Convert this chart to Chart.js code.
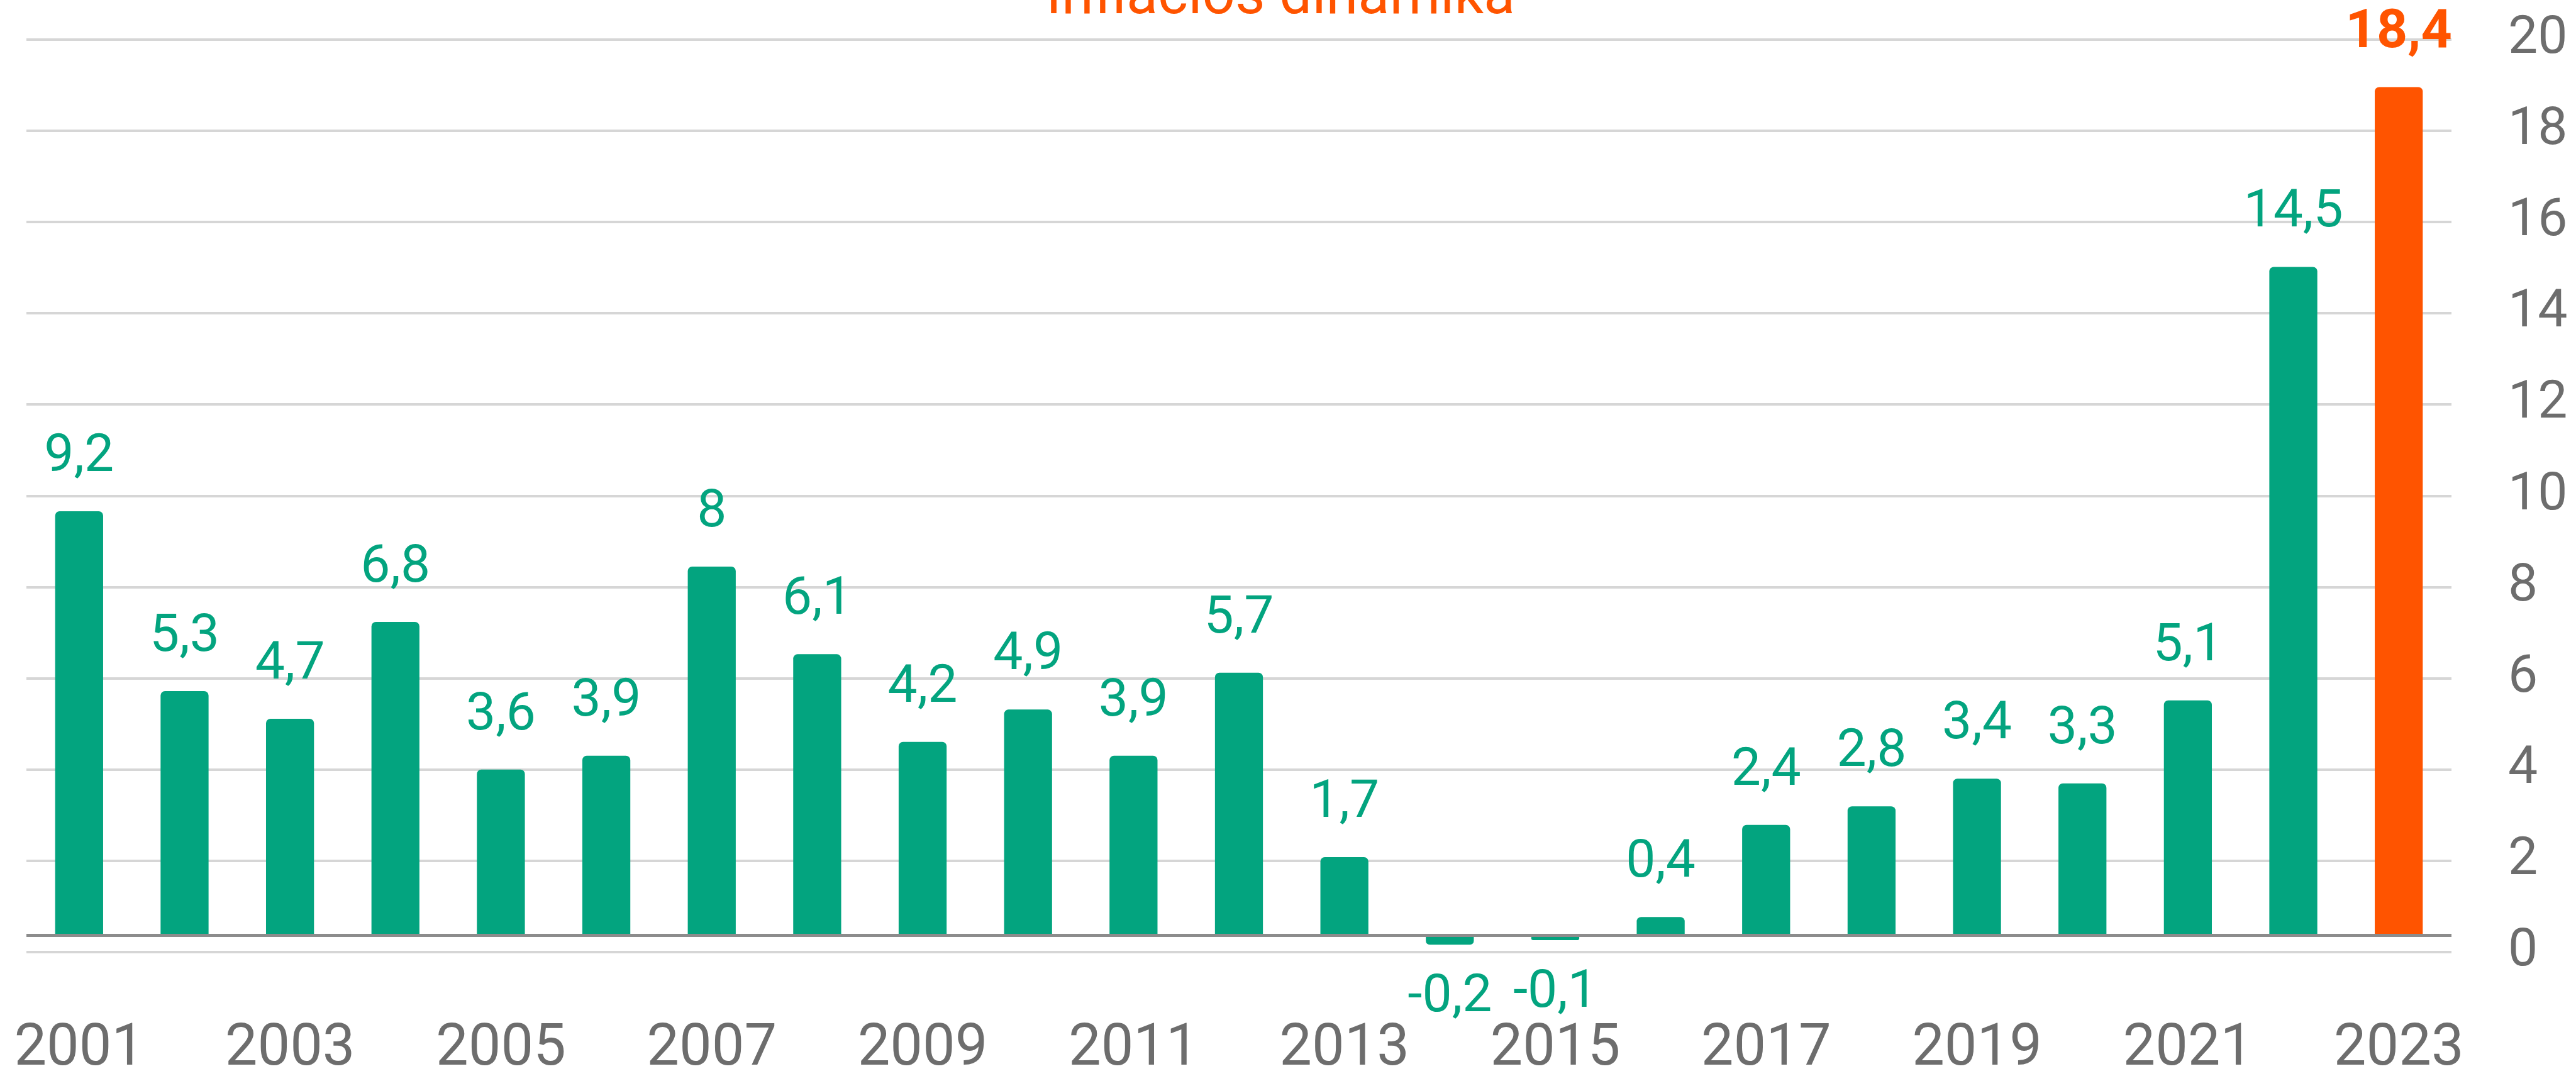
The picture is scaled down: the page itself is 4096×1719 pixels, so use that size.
<!DOCTYPE html>
<html>
<head>
<meta charset="utf-8">
<script src="https://cdn.jsdelivr.net/npm/chart.js@4.4.0/dist/chart.umd.min.js"></script>
<style>
    html, body { margin: 0; padding: 0; background: #fff; overflow: hidden; }
    #inflacio { display: block; }
</style>
</head>
<body>
<canvas id="inflacio" width="4096" height="1719"></canvas>
<script>
// Adatok
const evek = ['2001', '2002', '2003', '2004', '2005', '2006', '2007', '2008', '2009', '2010', '2011', '2012',
    '2013', '2014', '2015', '2016', '2017', '2018', '2019', '2020', '2021', '2022', '2023'];
const inflacio = [9.2, 5.3, 4.7, 6.8, 3.6, 3.9, 8, 6.1, 4.2, 4.9, 3.9, 5.7,
    1.7, -0.2, -0.1, 0.4, 2.4, 2.8, 3.4, 3.3, 5.1, 14.5, 18.4];
const tengelyErtekek = [0, 2, 4, 6, 8, 10, 12, 14, 16, 18, 20];
const cim = 'Inflációs dinamika';

const ZOLD = '#03a47f';
const NARANCS = '#ff5400';
const SZURKE = '#6d6d6d';
const FONT = 'Roboto';

const utolso = inflacio.length - 1;

// a tengelyfeliratok ne tolják el a rajzterületet
function nullaPadding(scale) {
    scale.paddingLeft = 0;
    scale.paddingRight = 0;
    scale.paddingTop = 0;
    scale.paddingBottom = 0;
}

// Értékcímkék és a cím
const cimkePlugin = {
    id: 'cimkek',
    afterDatasetsDraw(chart) {
        const ctx = chart.ctx;
        const meta = chart.getDatasetMeta(0);
        ctx.save();
        ctx.textAlign = 'center';
        ctx.textBaseline = 'middle';
        meta.data.forEach((bar, i) => {
            const v = inflacio[i];
            const szoveg = String(v).replace('.', ',');
            const y = v >= 0 ? bar.y - 85 : bar.y + 85;
            if (i === utolso) {
                ctx.fillStyle = NARANCS;
                ctx.font = 'bold 86px ' + FONT;
            } else {
                ctx.fillStyle = ZOLD;
                ctx.font = '84px ' + FONT;
            }
            ctx.fillText(szoveg, bar.x, y);
        });

        // cím, felül levágva
        ctx.fillStyle = NARANCS;
        ctx.font = '92px ' + FONT;
        ctx.textBaseline = 'alphabetic';
        ctx.fillText(cim, 2036, 21);
        ctx.restore();
    }
};

const ctx = document.getElementById('inflacio');

new Chart(ctx, {
    type: 'bar',
    data: {
        labels: evek,
        datasets: [{
            data: inflacio,
            yAxisID: 'oszlop',
            backgroundColor: inflacio.map((v, i) => i === utolso ? NARANCS : ZOLD),
            borderWidth: 0,
            borderRadius: 7,
            barPercentage: 0.455,
            categoryPercentage: 1
        }]
    },
    options: {
        responsive: false,
        animation: false,
        devicePixelRatio: 1,
        layout: {
            padding: { left: 42, top: 63, right: 0, bottom: 0 }
        },
        plugins: {
            legend: { display: false },
            tooltip: { enabled: false }
        },
        scales: {
            x: {
                grid: { display: false, drawTicks: false },
                border: { display: false },
                ticks: {
                    autoSkip: false,
                    maxRotation: 0,
                    padding: 101,
                    color: SZURKE,
                    font: { family: FONT, size: 92 },
                    callback: function (val, index) {
                        return index % 2 === 0 ? evek[index] : '';
                    }
                },
                afterFit: function (scale) {
                    scale.height = 205;
                    nullaPadding(scale);
                }
            },
            // oszlopok tengelye, csak a nullvonal látszik
            oszlop: {
                position: 'left',
                min: -0.36,
                max: 19.43,
                z: 1,
                border: { display: false },
                grid: { color: '#8c8c8c', lineWidth: 5, drawTicks: false },
                ticks: { display: false },
                afterBuildTicks: function (scale) {
                    scale.ticks = [{ value: 0 }];
                },
                afterFit: function (scale) {
                    scale.width = 0;
                    nullaPadding(scale);
                }
            },
            // feliratozott tengely jobb oldalon
            jobb: {
                position: 'right',
                min: 0,
                max: 20,
                border: { display: false },
                grid: { color: '#d6d6d6', lineWidth: 4, drawTicks: false },
                ticks: {
                    padding: 90,
                    color: SZURKE,
                    font: { family: FONT, size: 84 }
                },
                afterBuildTicks: function (scale) {
                    scale.ticks = tengelyErtekek.map(v => ({ value: v }));
                },
                afterFit: function (scale) {
                    scale.width = 198;
                    nullaPadding(scale);
                }
            }
        }
    },
    plugins: [cimkePlugin]
});
</script>
</body>
</html>
